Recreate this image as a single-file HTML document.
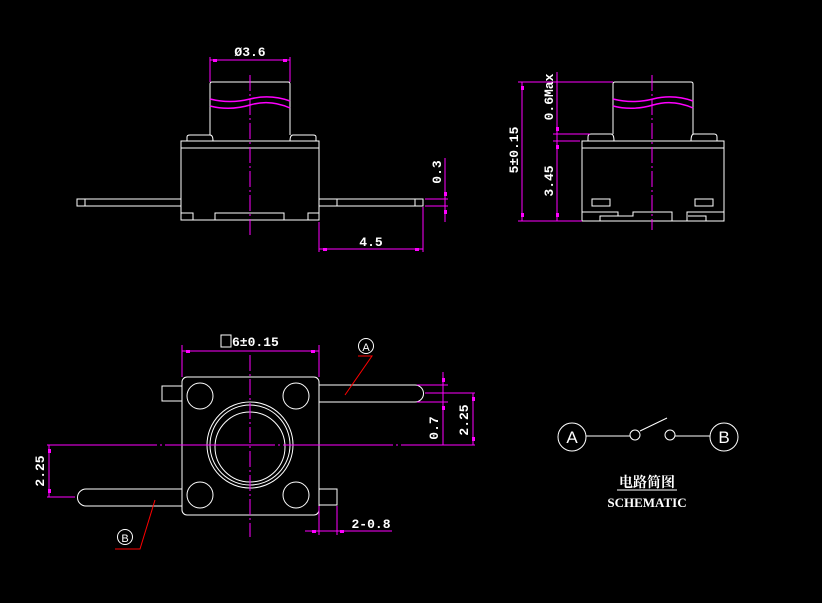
<!DOCTYPE html>
<html><head><meta charset="utf-8"><style>html,body{margin:0;padding:0;background:#000}svg{display:block}</style></head><body>
<svg width="822" height="603" viewBox="0 0 822 603" xmlns="http://www.w3.org/2000/svg" font-family="'Liberation Mono','Noto Sans CJK SC',monospace" font-weight="bold" font-size="13">
<rect width="822" height="603" fill="#000"/>
<g fill="none" stroke="#fff" stroke-width="1">
<path d="M210 135 V84 Q210 82 212 82 H288 Q290 82 290 84 V135"/>
<path d="M187 141 V137 Q187 135 190 135 H210 Q213 135 213 141"/>
<path d="M290 141 Q290 135 293 135 H313 Q316 135 316 137 V141"/>
<rect x="181" y="141" width="138" height="79"/>
<line x1="181" y1="148" x2="319" y2="148"/>
<rect x="77" y="199" width="104" height="7"/>
<line x1="85" y1="199" x2="85" y2="206"/>
<rect x="319" y="199" width="104" height="7"/>
<line x1="337" y1="199" x2="337" y2="206"/><line x1="415" y1="199" x2="415" y2="206"/>
<rect x="181" y="213" width="12" height="7"/>
<rect x="215" y="213" width="69" height="7"/>
<rect x="308" y="213" width="11" height="7"/>
<path d="M613 134 V84 Q613 82 615 82 H691 Q693 82 693 84 V134"/>
<path d="M588 141 V137 Q588 134 591 134 H611 Q614 134 614 141"/>
<path d="M691 141 Q691 134 694 134 H714 Q717 134 717 137 V141"/>
<rect x="582" y="141" width="142" height="80"/>
<line x1="582" y1="148" x2="724" y2="148"/>
<rect x="592" y="199" width="18" height="7"/>
<rect x="695" y="199" width="18" height="7"/>
<path d="M582 212 H618 V216 H633 V212 H672 V221 M687 221 V212 H724"/>
<path d="M600 221 V216 H618"/>
<path d="M688 216 H706 V221"/>
<rect x="182" y="377" width="137" height="138" rx="5"/>
<rect x="162" y="386" width="20" height="15"/>
<rect x="319" y="489" width="18" height="16"/>
<circle cx="200" cy="396" r="13"/><circle cx="296" cy="396" r="13"/>
<circle cx="200" cy="495" r="13"/><circle cx="296" cy="495" r="13"/>
<circle cx="250" cy="445" r="43"/><circle cx="250" cy="445" r="40"/><circle cx="250" cy="447" r="35"/>
<path d="M319 385 H415 A8.5 8.5 0 0 1 415 402 H319"/>
<path d="M182 489 H86 A8.5 8.5 0 0 0 86 506 H182"/>
<circle cx="572" cy="437" r="14"/><circle cx="724" cy="437" r="14"/>
<line x1="586" y1="436" x2="630" y2="436"/>
<circle cx="635" cy="435" r="5"/>
<line x1="640" y1="431" x2="667" y2="418"/>
<circle cx="670" cy="435" r="5"/>
<line x1="675" y1="436" x2="710" y2="436"/>
<line x1="617" y1="490" x2="677" y2="490"/>
</g>
<g fill="#fff" font-weight="normal" font-family="'Liberation Sans',sans-serif" font-size="17" text-anchor="middle">
<text x="572" y="443">A</text><text x="724" y="443">B</text>
</g>
<g fill="none" stroke="#f0f" stroke-width="1">
<path d="M210 57 V82 M290 57 V82 M210 60 H290"/>
<path d="M210 99 Q230 104 250 99 T290 101 M210 106 Q230 111 250 105 T290 108" stroke-width="1.5"/>
<path d="M250 75 V235" stroke-dasharray="16 3 2 3"/>
<path d="M445 158 V222 M425 199 H448 M425 206 H448"/>
<path d="M319 222 V252 M423 207 V252 M319 249 H423"/>
<path d="M613 99 Q633 104 653 99 T693 101 M613 106 Q633 111 653 105 T693 108" stroke-width="1.5"/>
<path d="M652 75 V230" stroke-dasharray="16 3 2 3"/>
<path d="M518 82 H613 M518 221 H582 M522 82 V221"/>
<path d="M557 72 V221 M553 134 H590 M553 141 H580"/>
<path d="M182 345 V377 M319 345 V377 M182 351 H319"/>
<path d="M47 445 H475" stroke-dasharray="110 3 2 3"/>
<path d="M250 355 V537" stroke-dasharray="16 3 2 3"/>
<path d="M417 385 H448 M417 402 H448 M443 372 V445"/>
<path d="M425 393 H475 M473 393 V445"/>
<path d="M47 497 H75 M49 445 V497"/>
<path d="M319 506 V535 M337 506 V535 M305 531 H392"/>
</g>
<g fill="#f0f">
<rect x="213" y="59" width="4" height="3"/><rect x="283" y="59" width="4" height="3"/>
<rect x="444" y="192" width="3" height="4"/><rect x="444" y="210" width="3" height="4"/>
<rect x="323" y="248" width="4" height="3"/><rect x="415" y="248" width="4" height="3"/>
<rect x="521" y="86" width="3" height="4"/><rect x="521" y="213" width="3" height="4"/>
<rect x="556" y="127" width="3" height="4"/><rect x="556" y="145" width="3" height="4"/><rect x="556" y="213" width="3" height="4"/>
<rect x="186" y="350" width="4" height="3"/><rect x="311" y="350" width="4" height="3"/>
<rect x="442" y="378" width="3" height="4"/><rect x="442" y="406" width="3" height="4"/>
<rect x="472" y="397" width="3" height="4"/><rect x="472" y="437" width="3" height="4"/>
<rect x="48" y="449" width="3" height="4"/><rect x="48" y="489" width="3" height="4"/>
<rect x="312" y="530" width="4" height="3"/><rect x="340" y="530" width="4" height="3"/>
</g>
<g stroke="#f00" fill="none">
<path d="M358 356 H372 L345 395"/>
<path d="M115 549 H140 L155 500"/>
</g>
<g stroke="#fff" fill="none">
<circle cx="366" cy="346" r="7.5"/><circle cx="125" cy="537" r="7.5"/>
<rect x="221" y="335" width="10" height="12"/>
</g>
<g fill="#fff">
<text x="366" y="351" text-anchor="middle" font-size="11" font-weight="normal" font-family="'Liberation Sans',sans-serif">A</text>
<text x="125" y="542" text-anchor="middle" font-size="11" font-weight="normal" font-family="'Liberation Sans',sans-serif">B</text>
<text x="250" y="56" text-anchor="middle">Ø3.6</text>
<text x="371" y="246" text-anchor="middle">4.5</text>
<text transform="translate(441,172) rotate(-90)" text-anchor="middle">0.3</text>
<text transform="translate(518,150) rotate(-90)" text-anchor="middle">5±0.15</text>
<text transform="translate(553,97) rotate(-90)" text-anchor="middle">0.6Max</text>
<text transform="translate(553,181) rotate(-90)" text-anchor="middle">3.45</text>
<text x="232" y="346">6±0.15</text>
<text transform="translate(438,428) rotate(-90)" text-anchor="middle">0.7</text>
<text transform="translate(468,420) rotate(-90)" text-anchor="middle">2.25</text>
<text transform="translate(44,471) rotate(-90)" text-anchor="middle">2.25</text>
<text x="371" y="528" text-anchor="middle">2-0.8</text>
<text x="647" y="487" text-anchor="middle" font-size="14" font-family="'Noto Serif CJK SC','Noto Sans CJK SC',serif">电路简图</text>
<text x="647" y="507" text-anchor="middle" font-size="13" font-family="'Liberation Serif',serif">SCHEMATIC</text>
</g>
</svg>
</body></html>
